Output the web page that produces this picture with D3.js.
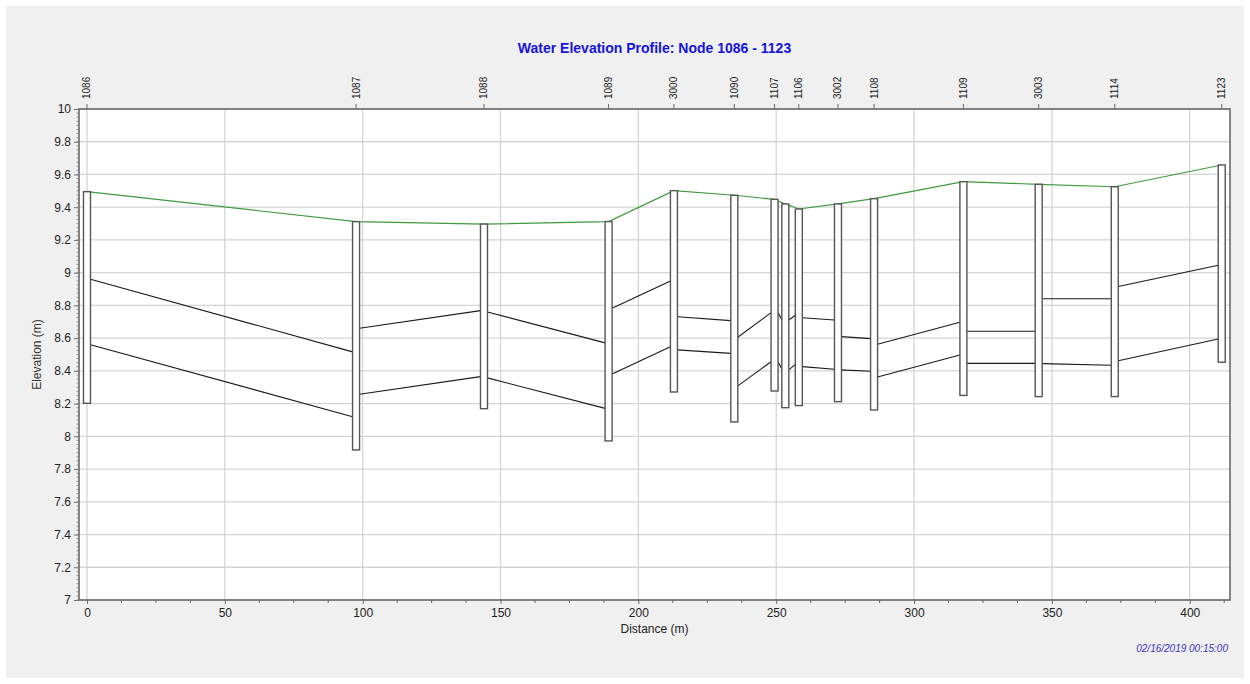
<!DOCTYPE html>
<meta charset="utf-8">
<script src="https://d3js.org/d3.v7.min.js"></script>
<style>
  body { margin: 0; background: #fff; }
  text { font-family: Arial, "Liberation Sans", sans-serif; }
</style>
<div id="chart"></div>
<script>

// nodes along the profile (one unlabeled node between 1107 and 1106)
var nodeNames = ["1086", "1087", "1088", "1089", "3000", "1090", "1107", "", "1106", "3002", "1108", "1109", "3003", "1114", "1123"];
var nodeDistance = [0, 97.6, 144, 189.2, 212.9, 234.8, 249.4, 253.3, 258.2, 272.4, 285.5, 317.9, 345.2, 372.8, 411.6];
var groundElev = [9.495, 9.312, 9.297, 9.312, 9.501, 9.473, 9.448, 9.420, 9.389, 9.420, 9.452, 9.556, 9.540, 9.525, 9.658];
var invertElev = [8.202, 7.917, 8.169, 7.972, 8.271, 8.088, 8.277, 8.175, 8.188, 8.212, 8.161, 8.250, 8.243, 8.243, 8.453];

// links between consecutive nodes: crown and invert at upstream / downstream end
var crownUp   = [8.960, 8.660, 8.760, 8.782, 8.731, 8.605, 8.756, 8.711, 8.725, 8.609, 8.563, 8.642, 8.841, 8.915];
var crownDn   = [8.516, 8.768, 8.571, 8.949, 8.707, 8.756, 8.711, 8.740, 8.711, 8.597, 8.697, 8.642, 8.841, 9.045];
var invertUp  = [8.560, 8.257, 8.357, 8.381, 8.528, 8.308, 8.456, 8.406, 8.426, 8.406, 8.363, 8.446, 8.444, 8.462];
var invertDn  = [8.120, 8.365, 8.171, 8.548, 8.507, 8.456, 8.412, 8.440, 8.410, 8.398, 8.497, 8.446, 8.434, 8.595];

var xTicks = [0, 50, 100, 150, 200, 250, 300, 350, 400];
var yTicks = [7, 7.2, 7.4, 7.6, 7.8, 8, 8.2, 8.4, 8.6, 8.8, 9, 9.2, 9.4, 9.6, 9.8, 10];

var W = 1250, H = 684;
var pLeft = 79, pRight = 1230, pTop = 109, pBottom = 600;
var poleW = 7;

var svg = d3.select("#chart").append("svg")
  .attr("width", W)
  .attr("height", H);

// background panel
svg.append("rect").attr("x", 6).attr("y", 6).attr("width", W - 12).attr("height", H - 12).attr("fill", "#f0f0f0");
svg.append("rect").attr("x", pLeft).attr("y", pTop).attr("width", pRight - pLeft).attr("height", pBottom - pTop).attr("fill", "#fff");

var x = d3.scaleLinear().domain([-2.9, 414.6]).range([pLeft, pRight]);
var y = d3.scaleLinear().domain([7, 10]).range([pBottom, pTop]);

// grid
svg.append("g").selectAll("line").data(xTicks).enter().append("line")
  .attr("x1", function(d) { return x(d); }).attr("x2", function(d) { return x(d); })
  .attr("y1", pTop).attr("y2", pBottom)
  .attr("stroke", "#d4d4d4").attr("stroke-width", 1.3);
svg.append("g").selectAll("line").data(yTicks).enter().append("line")
  .attr("x1", pLeft).attr("x2", pRight)
  .attr("y1", function(d) { return y(d); }).attr("y2", function(d) { return y(d); })
  .attr("stroke", "#d4d4d4").attr("stroke-width", 1.3);

// minor ticks
var xMinor = d3.range(0, 415, 12.5).filter(function(d) { return d % 50 !== 0; });
var yMinor = d3.range(7, 10, 0.025);

var axisColor = "#6a6a6a";

// bottom axis
var xAxis = svg.append("g")
  .attr("transform", "translate(0," + pBottom + ")")
  .call(d3.axisBottom(x).tickValues(xTicks).tickSize(4).tickPadding(4).tickFormat(d3.format("d")));
svg.append("g").selectAll("line").data(xMinor).enter().append("line")
  .attr("x1", function(d) { return x(d); }).attr("x2", function(d) { return x(d); })
  .attr("y1", pBottom).attr("y2", pBottom + 3)
  .attr("stroke", axisColor);

// left axis
var yAxis = svg.append("g")
  .attr("transform", "translate(" + pLeft + ",0)")
  .call(d3.axisLeft(y).tickValues(yTicks).tickSize(5).tickPadding(3)
    .tickFormat(function(d) { return String(+d.toFixed(1)); }));
svg.append("g").selectAll("line").data(yMinor).enter().append("line")
  .attr("x1", pLeft - 2.5).attr("x2", pLeft)
  .attr("y1", function(d) { return y(d); }).attr("y2", function(d) { return y(d); })
  .attr("stroke", "#9a9a9a");

// top axis with node names
var nodeIdx = d3.range(nodeNames.length).filter(function(i) { return nodeNames[i] !== ""; });
var topAxis = svg.append("g");
topAxis.selectAll("line").data(nodeIdx).enter().append("line")
  .attr("x1", function(i) { return x(nodeDistance[i]); }).attr("x2", function(i) { return x(nodeDistance[i]); })
  .attr("y1", pTop - 5).attr("y2", pTop)
  .attr("stroke", axisColor);
topAxis.selectAll("text").data(nodeIdx).enter().append("text")
  .attr("transform", function(i) { return "translate(" + x(nodeDistance[i]) + "," + (pTop - 10) + ") rotate(-90)"; })
  .attr("dy", "0.35em")
  .attr("text-anchor", "start")
  .attr("font-size", 10)
  .attr("fill", "#222")
  .text(function(i) { return nodeNames[i]; });

[xAxis, yAxis].forEach(function(a) {
  a.select(".domain").remove();
  a.selectAll(".tick line").attr("stroke", axisColor);
  a.selectAll(".tick text").attr("font-size", 12).attr("fill", "#222")
    .attr("font-family", "Arial, 'Liberation Sans', sans-serif");
});

// frame
svg.append("rect").attr("x", pLeft).attr("y", pTop).attr("width", pRight - pLeft).attr("height", pBottom - pTop)
  .attr("fill", "none").attr("stroke", axisColor).attr("stroke-width", 1.6);

// links (crown and invert lines) between pole edges
var links = d3.range(nodeNames.length - 1);
var linkG = svg.append("g").attr("stroke", "#1a1a1a").attr("stroke-width", 1.1);
links.forEach(function(i) {
  var x1 = x(nodeDistance[i]) + poleW / 2, x2 = x(nodeDistance[i + 1]) - poleW / 2;
  linkG.append("line").attr("x1", x1).attr("x2", x2).attr("y1", y(crownUp[i])).attr("y2", y(crownDn[i]));
  linkG.append("line").attr("x1", x1).attr("x2", x2).attr("y1", y(invertUp[i])).attr("y2", y(invertDn[i]));
});

// ground line
svg.append("path")
  .datum(d3.range(nodeNames.length))
  .attr("fill", "none")
  .attr("stroke", "#3f9a3f")
  .attr("stroke-width", 1.2)
  .attr("d", d3.line()
    .x(function(i) { return x(nodeDistance[i]); })
    .y(function(i) { return y(groundElev[i]); }));

// manholes
svg.append("g").selectAll("rect").data(d3.range(nodeNames.length)).enter().append("rect")
  .attr("x", function(i) { return x(nodeDistance[i]) - poleW / 2; })
  .attr("y", function(i) { return y(groundElev[i]); })
  .attr("width", poleW)
  .attr("height", function(i) { return y(invertElev[i]) - y(groundElev[i]); })
  .attr("fill", "#fff")
  .attr("stroke", "#555")
  .attr("stroke-width", 1.4);

// titles
svg.append("text").attr("x", (pLeft + pRight) / 2).attr("y", 53)
  .attr("text-anchor", "middle").attr("font-size", 14).attr("font-weight", "bold")
  .attr("fill", "#1414dc")
  .text("Water Elevation Profile: Node 1086 - 1123");

svg.append("text").attr("x", (pLeft + pRight) / 2).attr("y", 633)
  .attr("text-anchor", "middle").attr("font-size", 12).attr("fill", "#222")
  .text("Distance (m)");

svg.append("text").attr("transform", "translate(41," + ((pTop + pBottom) / 2) + ") rotate(-90)")
  .attr("text-anchor", "middle").attr("font-size", 12).attr("fill", "#333")
  .text("Elevation (m)");

svg.append("text").attr("x", 1228).attr("y", 652)
  .attr("text-anchor", "end").attr("font-size", 10).attr("font-style", "italic")
  .attr("fill", "#3535c8")
  .text("02/16/2019 00:15:00");

</script>
